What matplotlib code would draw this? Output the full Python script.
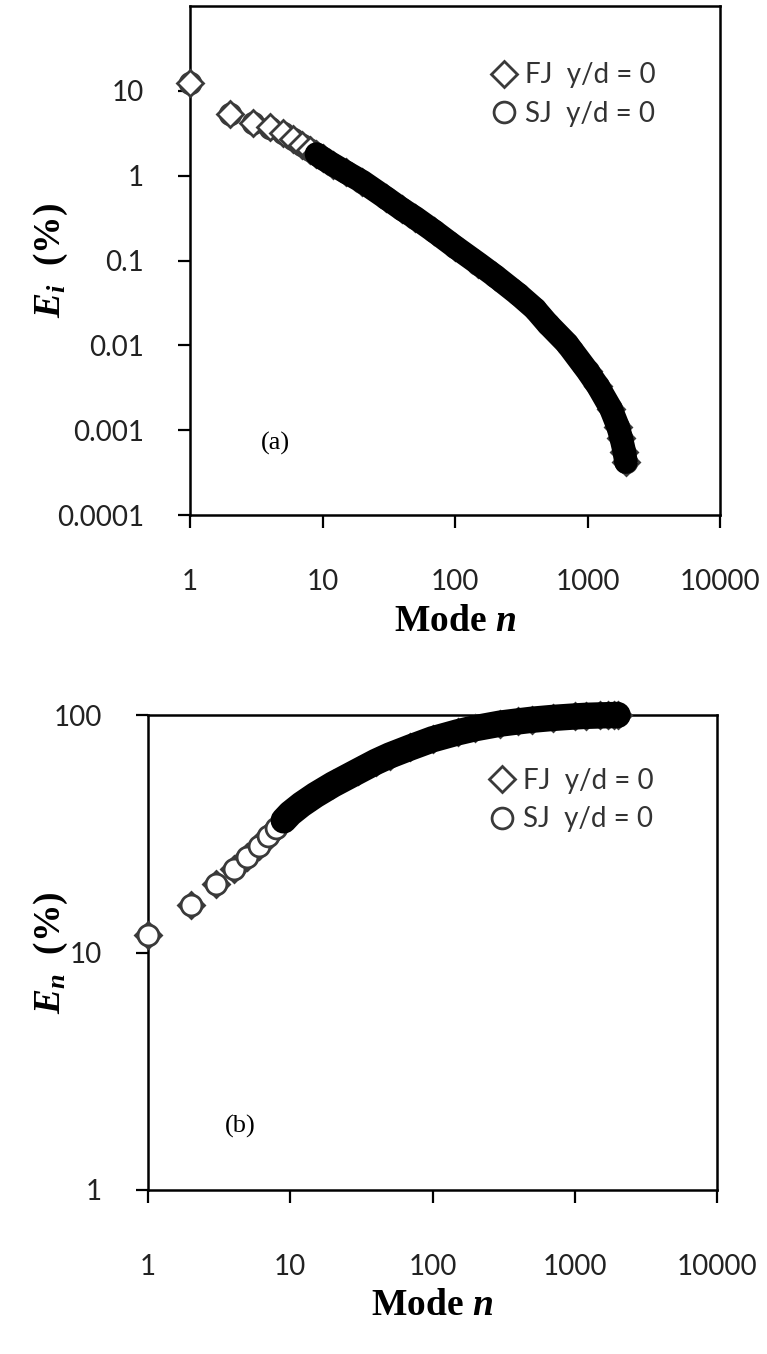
import numpy as np
import matplotlib.pyplot as plt
from matplotlib.ticker import FixedLocator, NullLocator

plt.rcParams['mathtext.fontset'] = 'custom'
plt.rcParams['mathtext.it'] = 'Liberation Serif:italic:bold'
plt.rcParams['mathtext.rm'] = 'Liberation Serif:bold'
plt.rcParams['mathtext.bf'] = 'Liberation Serif:bold'

# (a) energy of each mode E_i (%)
modes_a = [1, 2, 3, 4, 5, 6, 7, 8, 9, 10, 12, 15, 20, 30, 40, 50, 70, 100, 150,
           200, 300, 400, 500, 700, 1000, 1200, 1500, 1700, 1800, 1900, 1950]
fj_a = [12.4, 5.4, 4.2, 3.7, 3.2, 2.7, 2.3, 2.0, 1.8, 1.6, 1.35, 1.1, 0.85, 0.55,
        0.40, 0.32, 0.22, 0.145, 0.092, 0.066, 0.040, 0.027, 0.018, 0.0105,
        0.0050, 0.0033, 0.0018, 0.0011, 0.0008, 0.00055, 0.00042]
sj_a = [12.4, 5.3, 4.2, 3.6, 3.2, 2.7, 2.3, 2.0, 1.8, 1.6, 1.35, 1.1, 0.85, 0.55,
        0.40, 0.32, 0.22, 0.145, 0.092, 0.066, 0.040, 0.027, 0.018, 0.0105,
        0.0050, 0.0033, 0.0018, 0.0011, 0.0008, 0.00055, 0.00042]

# (b) cumulative energy E_n (%)
modes_b = [1, 2, 3, 4, 5, 6, 7, 8, 9, 10, 12, 15, 20, 30, 40, 50, 70, 100, 150,
           200, 300, 400, 500, 700, 1000, 1200, 1500, 1700, 1900, 2000]
fj_b = [11.8, 15.8, 19.5, 22.5, 25.3, 28.0, 30.8, 33.3, 36.0, 38.5, 42.0, 46.0,
        51.0, 58.0, 63.5, 67.5, 73.0, 79.0, 84.5, 88.0, 92.0, 94.0, 95.5, 97.2,
        98.6, 99.2, 99.6, 99.8, 99.95, 100.0]
sj_b = [11.8, 15.8, 19.5, 22.5, 25.3, 28.0, 30.8, 33.3, 36.0, 38.5, 42.0, 46.0,
        51.0, 58.0, 63.5, 67.5, 73.0, 79.0, 84.5, 88.0, 92.0, 94.0, 95.5, 97.2,
        98.6, 99.2, 99.6, 99.8, 99.95, 100.0]

x_ticks = [1, 10, 100, 1000, 10000]
x_ticklabels = ["1", "10", "100", "1000", "10000"]
ya_ticks = [0.0001, 0.001, 0.01, 0.1, 1, 10]
ya_ticklabels = ["0.0001", "0.001", "0.01", "0.1", "1", "10"]
yb_ticks = [1, 10, 100]
yb_ticklabels = ["1", "10", "100"]
legend_labels = ["FJ  y/d = 0", "SJ  y/d = 0"]

W, H = 767, 1354
fig = plt.figure(figsize=(W / 100, H / 100), dpi=100)

tick_font = {'family': 'Lato', 'size': 20}
lab_font = {'family': 'Liberation Serif', 'weight': 'bold', 'size': 27}


def draw_panel(ax, modes, fj, sj, yticks, yticklabels, ylim, ylabel, tag, tag_xy,
               leg_xy, xpad, band_lw, fj_on_top):
    modes = np.array(modes)
    sj = np.array(sj)
    band = modes >= 9
    # dense modes merge into one solid black band
    ax.plot(modes[band], sj[band], color='black', lw=band_lw, solid_capstyle='round',
            zorder=6, clip_on=False)
    z_fj, z_sj = (5, 4) if fj_on_top else (4, 5)
    h_fj, = ax.plot(modes, fj, ls='none', marker='D', ms=13, mfc='white',
                    mec='#3a3a3a', mew=2.0, zorder=z_fj, clip_on=False)
    h_sj, = ax.plot(modes, sj, ls='none', marker='o', ms=15, mfc='white',
                    mec='#3a3a3a', mew=2.0, zorder=z_sj, clip_on=False)

    ax.set_xscale('log')
    ax.set_yscale('log')
    ax.set_xlim(1, 10000)
    ax.set_ylim(*ylim)
    ax.xaxis.set_major_locator(FixedLocator(x_ticks))
    ax.xaxis.set_minor_locator(NullLocator())
    ax.yaxis.set_major_locator(FixedLocator(yticks))
    ax.yaxis.set_minor_locator(NullLocator())
    ax.set_xticklabels(x_ticklabels, fontdict=tick_font, color='#222222')
    ax.set_yticklabels(yticklabels, fontdict=tick_font, color='#222222')
    ax.tick_params(axis='both', direction='out', length=9, width=1.6, color='black')
    ax.tick_params(axis='x', pad=xpad)
    ax.tick_params(axis='y', pad=24)
    for s in ax.spines.values():
        s.set_linewidth(1.8)
        s.set_color('black')

    ax.set_xlabel(r'Mode $n$', fontdict=lab_font, labelpad=6)
    ax.set_ylabel(ylabel, fontdict=lab_font)
    bb = ax.get_position()
    ax.yaxis.set_label_coords(70 / W, (bb.y0 + bb.y1) / 2, transform=fig.transFigure)

    ax.text(tag_xy[0], tag_xy[1], tag, transform=ax.transAxes, ha='center', va='center',
            family='Liberation Serif', fontsize=19)

    ax.legend([h_fj, h_sj], legend_labels, loc='center', bbox_to_anchor=leg_xy,
              frameon=False, prop={'family': 'Lato', 'size': 20}, labelcolor='#333333',
              handlelength=0.8, handletextpad=0.35, labelspacing=0.45, borderpad=0)


ax_a = fig.add_axes([190 / W, 1 - 515 / H, 530 / W, 509 / H])
draw_panel(ax_a, modes_a, fj_a, sj_a, ya_ticks, ya_ticklabels, (0.0001, 100),
           r'$E_i$  (%)', '(a)', (0.162, 0.141), (0.725, 0.826), 30, 17, True)

ax_b = fig.add_axes([148 / W, 1 - 1190 / H, 569 / W, 475 / H])
draw_panel(ax_b, modes_b, fj_b, sj_b, yb_ticks, yb_ticklabels, (1, 100),
           r'$E_n$  (%)', '(b)', (0.162, 0.133), (0.745, 0.821), 37, 19, False)

fig.savefig('out.png', dpi=100)
